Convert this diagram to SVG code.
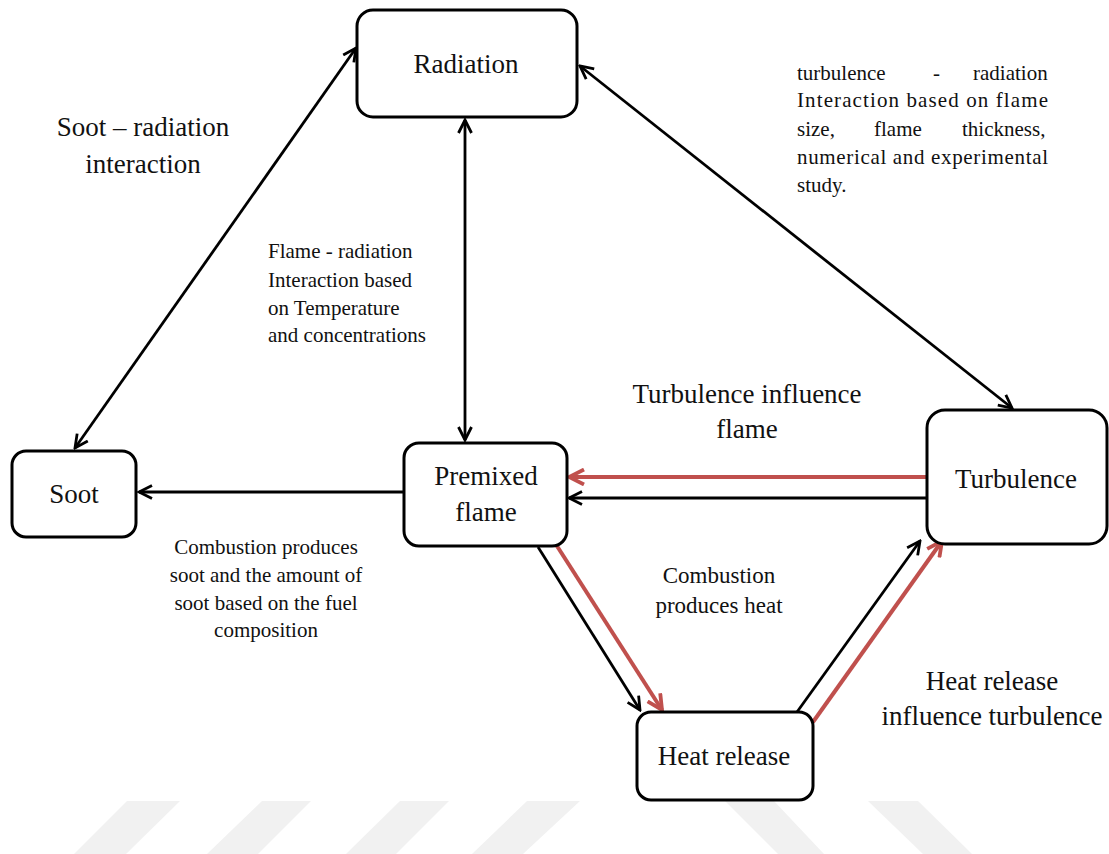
<svg xmlns="http://www.w3.org/2000/svg" width="1109" height="854" viewBox="0 0 1109 854">
<style>
.box{fill:#fff;stroke:#000;stroke-width:3}
.t{font-family:"Liberation Serif","Times New Roman",serif;fill:#111}
.n{font-size:27px;text-anchor:middle}
.l{font-size:21px}
.c{text-anchor:middle}
.blk{stroke:#000;stroke-width:2.8;fill:none}
.red{stroke:#c0504d;stroke-width:4;fill:none}
.wm{fill:#f1f1f1}
</style>
<defs>
<marker id="ab" viewBox="0 0 16 16" refX="14" refY="8" markerWidth="16" markerHeight="16" markerUnits="userSpaceOnUse" orient="auto-start-reverse">
<path d="M1,1.5 L14,8 L1,14.5" fill="none" stroke="#000" stroke-width="2.8"/>
</marker>
<marker id="ar" viewBox="0 0 18 18" refX="16" refY="9" markerWidth="18" markerHeight="18" markerUnits="userSpaceOnUse" orient="auto">
<path d="M1,1.5 L16,9 L1,16.5" fill="none" stroke="#c0504d" stroke-width="3.8"/>
</marker>
</defs>
<g id="watermark">
<polygon class="wm" points="127,801 180,801 126,854 74,854"/>
<polygon class="wm" points="262,801 311,801 258,854 207,854"/>
<polygon class="wm" points="400,801 449,801 396,854 346,854"/>
<polygon class="wm" points="527,801 580,801 523,854 472,854"/>
<polygon class="wm" points="725,801 774,801 824,854 778,854"/>
<polygon class="wm" points="868,801 918,801 972,854 923,854"/>
</g>
<g id="connectors">
<line class="blk" x1="75" y1="448" x2="356" y2="48" marker-start="url(#ab)" marker-end="url(#ab)"/>
<line class="blk" x1="465" y1="120" x2="465" y2="440" marker-start="url(#ab)" marker-end="url(#ab)"/>
<line class="blk" x1="580" y1="66" x2="1012" y2="408" marker-start="url(#ab)" marker-end="url(#ab)"/>
<line class="blk" x1="403" y1="492" x2="139" y2="492" marker-end="url(#ab)"/>
<line class="blk" x1="927" y1="498" x2="569" y2="498" marker-end="url(#ab)"/>
<line class="red" x1="926" y1="477" x2="569" y2="477" marker-end="url(#ar)"/>
<line class="blk" x1="538" y1="547" x2="640" y2="710" marker-end="url(#ab)"/>
<line class="red" x1="557" y1="546" x2="662" y2="710" marker-end="url(#ar)"/>
<line class="blk" x1="797" y1="712" x2="920" y2="541" marker-end="url(#ab)"/>
<line class="red" x1="813" y1="722" x2="942" y2="541" marker-end="url(#ar)"/>
</g>
<g id="radiation">
<rect class="box" x="357" y="10" width="220" height="107" rx="16"/>
<text class="t n" x="466" y="73">Radiation</text>
</g>
<g id="soot">
<rect class="box" x="12" y="451" width="124" height="86" rx="14"/>
<text class="t n" x="74" y="503">Soot</text>
</g>
<g id="premixed">
<rect class="box" x="404" y="443" width="163" height="103" rx="15"/>
<text class="t n" x="486" y="485">Premixed</text>
<text class="t n" x="486" y="521">flame</text>
</g>
<g id="turbulence">
<rect class="box" x="927" y="410" width="180" height="134" rx="18"/>
<text class="t n" x="1016" y="488">Turbulence</text>
</g>
<g id="heat">
<rect class="box" x="637" y="712" width="176" height="88" rx="14"/>
<text class="t n" x="724" y="765">Heat release</text>
</g>
<g id="labels">
<text class="t c" font-size="27" x="143" y="136">Soot – radiation</text>
<text class="t c" font-size="27" x="143" y="173">interaction</text>
<text class="t l" x="268" y="258">Flame - radiation</text>
<text class="t l" x="268" y="287">Interaction based</text>
<text class="t l" x="268" y="315">on Temperature</text>
<text class="t l" x="268" y="342">and concentrations</text>
<text class="t l" y="80"><tspan x="797">turbulence</tspan><tspan x="933">-</tspan><tspan x="973">radiation</tspan></text>
<text class="t l" x="797" y="107" textLength="251" lengthAdjust="spacing">Interaction based on flame</text>
<text class="t l" y="136"><tspan x="797">size,</tspan><tspan x="874">flame</tspan><tspan x="962">thickness,</tspan></text>
<text class="t l" x="797" y="164" textLength="251" lengthAdjust="spacing">numerical and experimental</text>
<text class="t l" x="797" y="192">study.</text>
<text class="t l c" x="266" y="554">Combustion produces</text>
<text class="t l c" x="266" y="582">soot and the amount of</text>
<text class="t l c" x="266" y="610">soot based on the fuel</text>
<text class="t l c" x="266" y="637">composition</text>
<text class="t c" font-size="27" x="747" y="403">Turbulence influence</text>
<text class="t c" font-size="27" x="747" y="438">flame</text>
<text class="t c" font-size="23" x="719" y="583">Combustion</text>
<text class="t c" font-size="23" x="719" y="613">produces heat</text>
<text class="t c" font-size="27" x="992" y="690">Heat release</text>
<text class="t c" font-size="27" x="992" y="725">influence turbulence</text>
</g>
</svg>
